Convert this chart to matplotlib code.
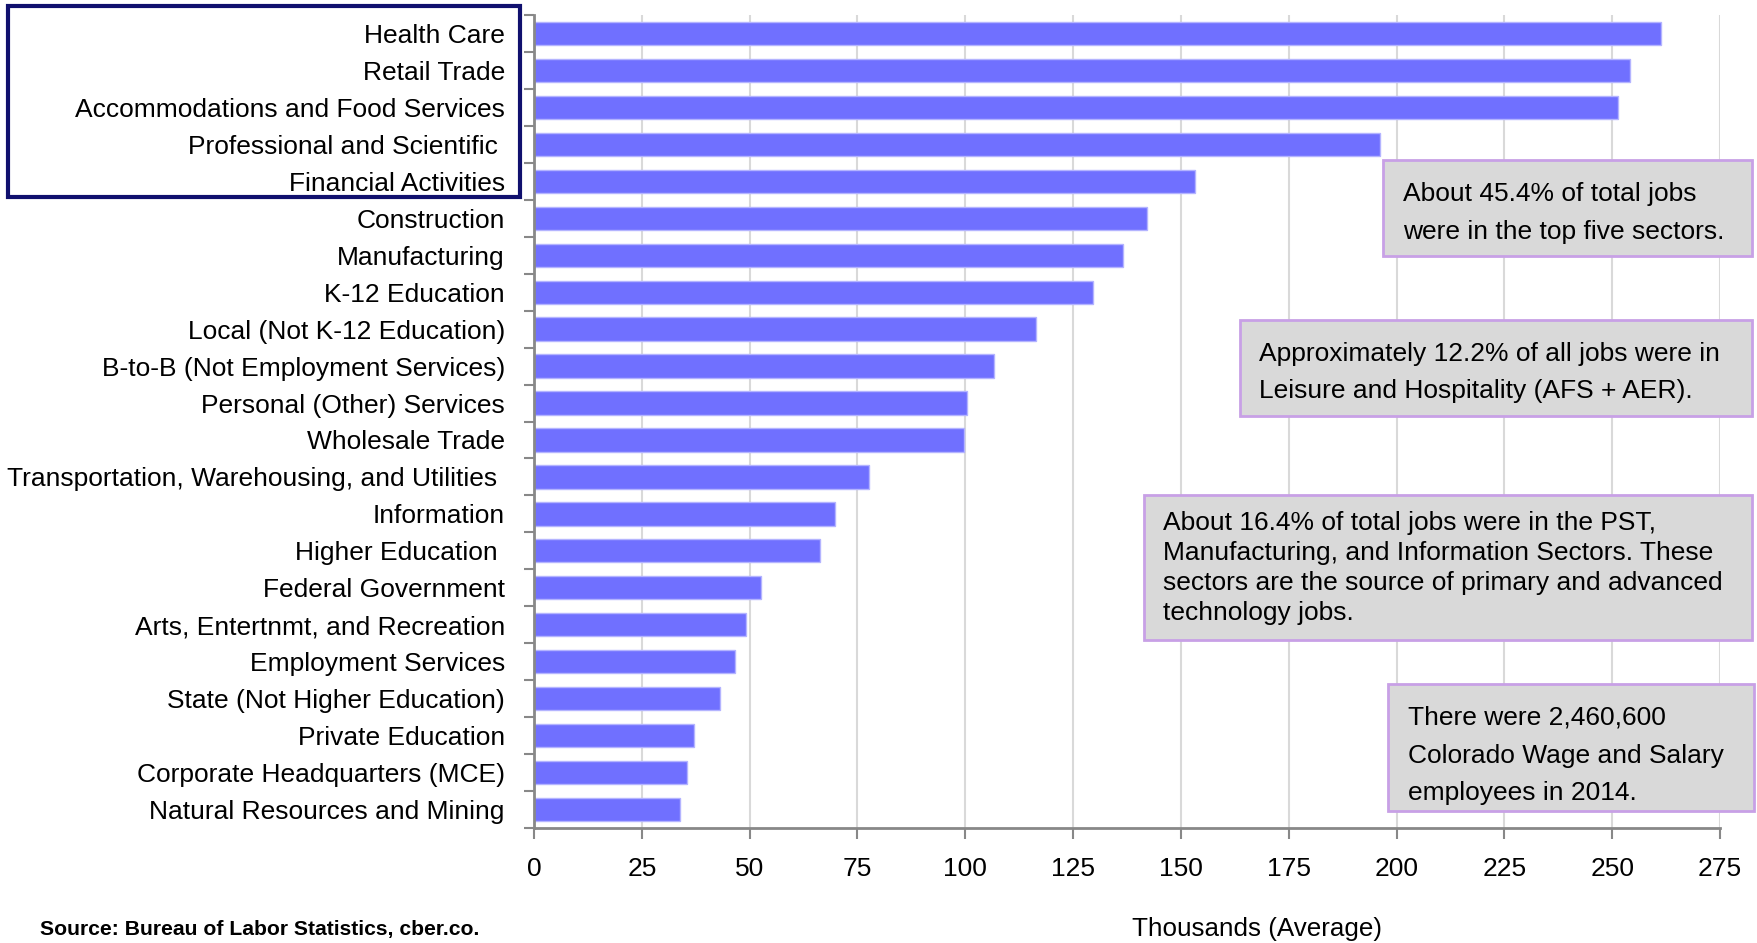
import matplotlib
matplotlib.use('Agg')
from matplotlib import pyplot as plt
from matplotlib.patches import Rectangle
import numpy as np

# Colorado wage and salary jobs by sector, 2014 (thousands, annual average)
SECTORS = ['Health Care', 'Retail Trade', 'Accommodations and Food Services',
           'Professional and Scientific ', 'Financial Activities', 'Construction',
           'Manufacturing', 'K-12 Education', 'Local (Not K-12 Education)',
           'B-to-B (Not Employment Services)', 'Personal (Other) Services',
           'Wholesale Trade', 'Transportation, Warehousing, and Utilities ',
           'Information', 'Higher Education ', 'Federal Government',
           'Arts, Entertnmt, and Recreation', 'Employment Services',
           'State (Not Higher Education)', 'Private Education',
           'Corporate Headquarters (MCE)', 'Natural Resources and Mining']
JOBS = [261.4, 254.2, 251.3, 196.2, 153.3, 142.2, 136.5, 129.6, 116.3, 106.6,
        100.3, 99.7, 77.7, 69.9, 66.2, 52.6, 49.2, 46.7, 43.2, 37.2, 35.4, 33.9]
XTICKS = list(range(0, 276, 25))

NOTES = [
    ['About 45.4% of total jobs', 'were in the top five sectors.'],
    ['Approximately 12.2% of all jobs were in', 'Leisure and Hospitality (AFS + AER).'],
    ['About 16.4% of total jobs were in the PST,',
     'Manufacturing, and Information Sectors. These',
     'sectors are the source of primary and advanced',
     'technology jobs.'],
    ['There were 2,460,600', 'Colorado Wage and Salary', 'employees in 2014.'],
]

plt.rcParams['font.family'] = ['Liberation Sans', 'DejaVu Sans']

W, H = 1758, 943
fig = plt.figure(figsize=(W / 100, H / 100), dpi=100)
ax = fig.add_axes([534 / W, 1 - 828 / H, (1720 - 534) / W, (828 - 15) / H])

ypos = np.arange(len(SECTORS))
ax.barh(ypos, JOBS, height=0.63, color='#7070ff', edgecolor='#b4b4ff', linewidth=1, zorder=3)
ax.set_ylim(len(SECTORS) - 0.5, -0.5)
ax.set_xlim(0, 275)

ax.set_yticks(ypos)
ax.set_yticklabels(SECTORS, fontsize=19)
ax.set_yticks(np.arange(-0.5, len(SECTORS)), minor=True)
ax.tick_params(axis='y', which='major', length=0, pad=21)
ax.tick_params(axis='y', which='minor', length=7, width=1.5, color='#888888')

ax.set_xticks(XTICKS)
ax.set_xticklabels([str(t) for t in XTICKS], fontsize=19)
ax.tick_params(axis='x', length=8, width=1.5, color='#888888', pad=13)
ax.grid(axis='x', color='#d9d9d9', linewidth=1.5, zorder=0)

for s in ['top', 'right']:
    ax.spines[s].set_visible(False)
for s in ['left', 'bottom']:
    ax.spines[s].set_color('#888888')
    ax.spines[s].set_linewidth(2)
    ax.spines[s].set_zorder(4)

# frame round the top five sectors
fig.patches.append(Rectangle((8 / W, 1 - 197 / H), 512 / W, 191 / H,
                             transform=fig.transFigure, fill=False,
                             edgecolor='#10106e', linewidth=3))

# note boxes: (left, top, right, bottom, text x, baselines)
boxes = [
    (1383, 160, 1752, 256, 1403, [201, 239]),
    (1240, 320, 1752, 416, 1259, [361, 398]),
    (1144, 495, 1752, 640, 1163, [530, 560, 590, 620]),
    (1388, 684, 1754, 811, 1408, [725, 763, 800]),
]
for (l, t, r, b, tx, bases), lines in zip(boxes, NOTES):
    fig.patches.append(Rectangle((l / W, 1 - b / H), (r - l) / W, (b - t) / H,
                                 transform=fig.transFigure, facecolor='#d9d9d9',
                                 edgecolor='#c8a0e6', linewidth=2, zorder=5))
    for line, yb in zip(lines, bases):
        fig.text(tx / W, 1 - yb / H, line, fontsize=19, va='baseline', ha='left', zorder=6)

fig.text(1257 / W, 1 - 936 / H, 'Thousands (Average)', fontsize=18.7, ha='center', va='baseline')
fig.text(40 / W, 1 - 935 / H, 'Source: Bureau of Labor Statistics, cber.co.',
         fontsize=15.2, fontweight='bold', ha='left', va='baseline')

fig.savefig('out.png', dpi=100)
